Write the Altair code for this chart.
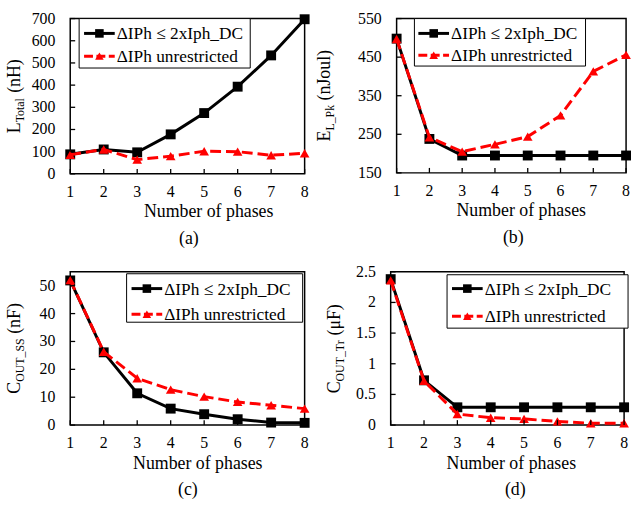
import altair as alt
import pandas as pd

# ---------------- data ----------------
phases = [1, 2, 3, 4, 5, 6, 7, 8]
series = ["ΔIPh ≤ 2xIph_DC", "ΔIPh unrestricted"]

a_black = [88, 110, 97, 178, 274, 393, 534, 697]
a_red = [86, 110, 64, 80, 102, 100, 84, 93]
b_black = [498, 238, 195, 195, 195, 195, 195, 195]
b_red = [497, 242, 205, 224, 244, 299, 413, 456]
c_black = [51.9, 26.1, 11.4, 5.9, 3.9, 2.1, 0.9, 0.8]
c_red = [52.0, 26.3, 16.8, 12.7, 10.2, 8.3, 7.1, 5.9]
d_black = [2.38, 0.73, 0.29, 0.29, 0.29, 0.29, 0.29, 0.29]
d_red = [2.36, 0.72, 0.18, 0.12, 0.10, 0.06, 0.03, 0.03]

a_ticks = [0, 100, 200, 300, 400, 500, 600, 700]
b_ticks = [150, 250, 350, 450, 550]
c_ticks = [0, 10, 20, 30, 40, 50]
d_ticks = [0, 0.5, 1, 1.5, 2, 2.5]

FONT = "Liberation Serif"

# Times-compatible advance widths (per 1000 em) for title layout
ADV = {"L": 611, "E": 611, "C": 667, "T": 611, "O": 722, "U": 722, "S": 556, "P": 556,
       "o": 500, "t": 278, "a": 444, "l": 278, "_": 500, "k": 500, "r": 333,
       " ": 250, "(": 333, ")": 333, "n": 500, "H": 722, "J": 389, "u": 500,
       "F": 556, "μ": 576}


def tw(s, fs):
    return sum(ADV.get(ch, 500) for ch in s) * fs / 1000.0


def txt(s, fs, x, y, align="center", baseline="middle", angle=0):
    props = dict(align=align, baseline=baseline, font=FONT, fontSize=fs, color="black")
    if angle:
        props["angle"] = angle
    return alt.Chart(pd.DataFrame({"t": [s]})).mark_text(**props).encode(
        text="t:N", x=alt.value(x), y=alt.value(y))


def panel(L, black, red, ydom, yticks, ylab, cap):
    w, h = L["w"], L["h"]
    df = pd.DataFrame({
        "phase": phases + phases,
        "value": black + red,
        "series": [series[0]] * len(phases) + [series[1]] * len(phases),
    })
    xs = alt.Scale(domain=[1, 8], nice=False, zero=False)
    ys = alt.Scale(domain=ydom, nice=False, zero=False)
    xe = alt.X("phase:Q", scale=xs, axis=None)
    ye = alt.Y("value:Q", scale=ys, axis=None)

    base = alt.Chart(df)
    blk = base.transform_filter(alt.datum.series == series[0])
    red_ = base.transform_filter(alt.datum.series == series[1])
    layers = [
        blk.mark_line(color="black", strokeWidth=3).encode(x=xe, y=ye),
        blk.mark_point(filled=True, shape="square", size=100, opacity=1, color="black").encode(x=xe, y=ye),
        red_.mark_line(color="red", strokeWidth=3, strokeDash=[11, 5]).encode(x=xe, y=ye),
        red_.mark_point(filled=True, shape="triangle-up", size=95, opacity=1, color="red").encode(x=xe, y=ye),
    ]

    # inward tick marks
    ydf = pd.DataFrame({"value": yticks, "lab": [f"{v:g}" for v in yticks]})
    xdf = pd.DataFrame({"phase": phases, "lab": [str(p) for p in phases]})
    layers.append(alt.Chart(ydf).mark_rule(color="black", strokeWidth=1.3).encode(
        y=ye, x=alt.value(0), x2=alt.value(5)))
    layers.append(alt.Chart(xdf).mark_rule(color="black", strokeWidth=1.3).encode(
        x=xe, y=alt.value(h), y2=alt.value(h - 5)))
    # tick labels
    layers.append(alt.Chart(ydf).mark_text(align="right", baseline="middle", font=FONT, fontSize=16,
                                           color="black").encode(y=ye, x=alt.value(-15), text="lab:N"))
    layers.append(alt.Chart(xdf).mark_text(align="center", baseline="middle", font=FONT, fontSize=16,
                                           color="black").encode(x=xe, y=alt.value(h + 18), text="lab:N"))
    # axis title and caption
    layers.append(txt("Number of phases", 18, L["xt"], h + 39))
    layers.append(txt(cap, 18, L["cap"], h + 66))

    # y-axis title with subscript, as rotated text pieces
    main_s, sub_s, suf_s = ylab
    gap = tw(" ", 18)
    w_main, w_sub, w_suf = tw(main_s, 18), tw(sub_s, 12), tw(suf_s, 18)
    total = w_main + w_sub + gap + w_suf
    y0 = h / 2 + total / 2
    bx = L["bx"]
    layers.append(txt(main_s, 18, bx, y0, align="left", baseline="alphabetic", angle=270))
    layers.append(txt(sub_s, 12, bx + 4, y0 - w_main, align="left", baseline="alphabetic", angle=270))
    layers.append(txt(suf_s, 18, bx, y0 - w_main - w_sub - gap, align="left", baseline="alphabetic",
                      angle=270))

    # legend box
    bx0, by0, bx1, by1 = L["box"]
    one = pd.DataFrame({"s": [""]})
    layers.append(alt.Chart(one).mark_rect(fill="white", stroke="black", strokeWidth=1).encode(
        x=alt.value(bx0), x2=alt.value(bx1), y=alt.value(by0), y2=alt.value(by1)))
    lx0, lx1 = L["line"]
    cx = (lx0 + lx1) / 2
    for i, (col, shp, dash) in enumerate([("black", "square", None), ("red", "triangle-up", [9, 3.5])]):
        ry = L["rows"][i]
        rule_kw = dict(color=col, strokeWidth=3)
        if dash:
            rule_kw["strokeDash"] = dash
        sd = pd.DataFrame({"s": [series[i]]})
        layers.append(alt.Chart(sd).mark_rule(**rule_kw).encode(
            x=alt.value(lx0), x2=alt.value(lx1), y=alt.value(ry)))
        layers.append(alt.Chart(sd).mark_point(filled=True, shape=shp, size=75, opacity=1, color=col).encode(
            x=alt.value(cx), y=alt.value(ry)))
        layers.append(alt.Chart(sd).mark_text(align="left", baseline="middle", font=FONT, fontSize=17.5,
                                              color="black").encode(
            text="s:N", x=alt.value(lx1 + 2), y=alt.value(ry + 1)))

    if L.get("anchor"):
        ax_, ay_ = L["anchor"]
        layers.append(alt.Chart(one).mark_rule(opacity=0, strokeWidth=0).encode(
            x=alt.value(ax_), x2=alt.value(ax_), y=alt.value(ay_), y2=alt.value(ay_)))

    return alt.layer(*layers).properties(width=w, height=h)


LA = dict(w=237, h=157, xt=140, cap=120, bx=-51, box=(9, 0, 182, 50), line=(14, 45), rows=(15, 38),
          anchor=(-66, -15))
LB = dict(w=232, h=156, xt=126, cap=118, bx=-67, box=(18, 0, 191, 48), line=(22, 53), rows=(15, 37))
LC = dict(w=237, h=155, xt=129, cap=119, bx=-51, box=(57, 2, 235, 51), line=(62, 93), rows=(17, 43))
LD = dict(w=236, h=155, xt=122, cap=126, bx=-51, box=(57, 3, 240, 57), line=(62, 93), rows=(17, 45))

pa = panel(LA, a_black, a_red, [0, 700], a_ticks, ("L", "Total", "(nH)"), "(a)")
pb = panel(LB, b_black, b_red, [150, 550], b_ticks, ("E", "L_Pk", "(nJoul)"), "(b)")
pc = panel(LC, c_black, c_red, [0, 55], c_ticks, ("C", "OUT_SS", "(nF)"), "(c)")
pd_ = panel(LD, d_black, d_red, [0, 2.5], d_ticks, ("C", "OUT_Tr", "(μF)"), "(d)")

row1 = alt.hconcat(pa, pb, spacing=93, bounds="flush")
row2 = alt.hconcat(pc, pd_, spacing=87, bounds="flush")

chart = alt.vconcat(row1, row2, spacing=256, bounds="flush").properties(
    padding={"left": 4, "top": 0, "right": 0, "bottom": 0},
    background="white",
).configure_view(stroke="black", strokeWidth=1.5)

chart.save("out.html", embed_options={"renderer": "svg", "actions": False})
